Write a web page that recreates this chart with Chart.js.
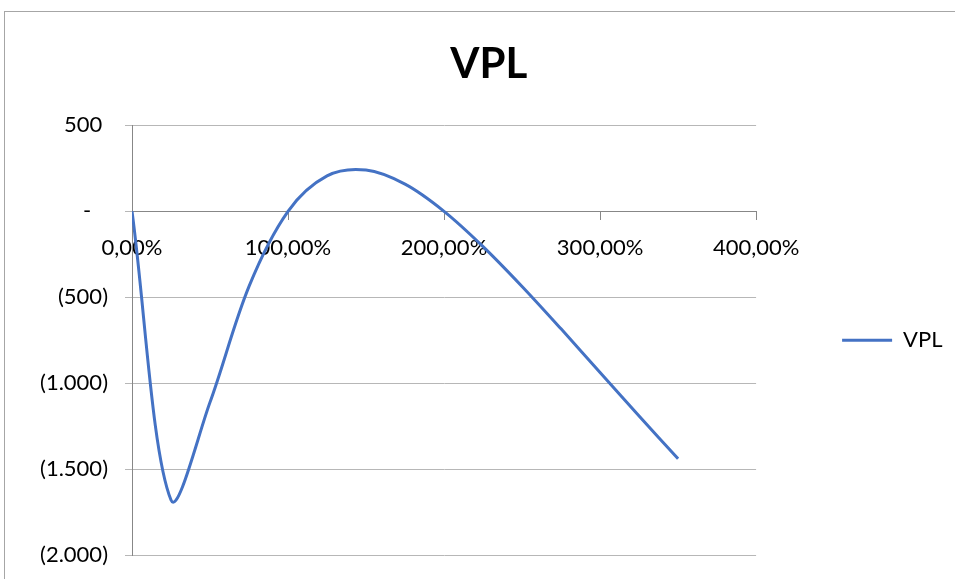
<!DOCTYPE html>
<html>
<head>
<meta charset="utf-8">
<script src="https://cdn.jsdelivr.net/npm/chart.js@4.4.1/dist/chart.umd.min.js"></script>
<style>
  html, body { margin: 0; padding: 0; background: #fff; }
  #wrap { width: 955px; height: 579px; }
</style>
</head>
<body>
<div id="wrap"><canvas id="chart" width="955" height="579"></canvas></div>
<script>
// rates (%) and NPV values
const rates = [0, 25, 50, 75, 100, 125, 150, 175, 200, 225, 250, 275, 300, 325, 350];
const vpl = [0, -1680, -1111, -437, 0, 206, 240, 158, 0, -205, -437, -684, -938, -1191, -1440];

const xTicks = [0, 100, 200, 300, 400];
const xTickLabels = ['0,00%', '100,00%', '200,00%', '300,00%', '400,00%'];
const yTicks = [500, 0, -500, -1000, -1500, -2000];
const yTickLabels = ['500 ', '-   ', '(500)', '(1.000)', '(1.500)', '(2.000)'];

const FONT = 'Lato, "Open Sans", sans-serif';

const frame = {
  id: 'frame',
  afterDraw(chart) {
    const ctx = chart.ctx;
    ctx.save();
    ctx.strokeStyle = '#a6a6a6';
    ctx.lineWidth = 1;
    ctx.strokeRect(4.5, 11.5, 1200, 1200);
    ctx.restore();
  }
};

const ctx = document.getElementById('chart').getContext('2d');
new Chart(ctx, {
  type: 'line',
  data: {
    datasets: [{
      label: 'VPL',
      data: rates.map((r, i) => ({ x: r, y: vpl[i] })),
      borderColor: '#4472C4',
      backgroundColor: '#4472C4',
      borderWidth: 3,
      pointRadius: 0,
      tension: 0.33,
      fill: false
    }]
  },
  options: {
    responsive: false,
    animation: false,
    layout: { padding: { left: 25, right: 2.5, top: 0, bottom: 24 } },
    plugins: {
      title: {
        display: true,
        text: 'VPL',
        color: '#000',
        font: { family: FONT, size: 42, weight: 'bold' },
        padding: { top: 39, bottom: 36 }
      },
      legend: {
        position: 'right',
        fullSize: false,
        labels: {
          color: '#000',
          font: { family: FONT, size: 22 },
          usePointStyle: true,
          pointStyle: 'line',
          pointStyleWidth: 50,
          padding: 86
        }
      },
      tooltip: { enabled: false }
    },
    scales: {
      x: {
        type: 'linear',
        position: { y: 0 },
        min: 0,
        max: 400,
        afterFit: (s) => {
          s.height = 0;
          s.paddingTop = s.paddingBottom = s.paddingLeft = s.paddingRight = 0;
        },
        afterBuildTicks: (s) => { s.ticks = xTicks.map(v => ({ value: v })); },
        ticks: {
          color: '#000',
          font: { family: FONT, size: 22 },
          padding: 15,
          maxRotation: 0,
          callback: (v) => xTickLabels[xTicks.indexOf(v)]
        },
        grid: { drawOnChartArea: false, color: '#878787', tickLength: 8 },
        border: { color: '#878787' }
      },
      y: {
        min: -2000,
        max: 500,
        afterFit: (s) => {
          s.width = 107;
          s.paddingTop = s.paddingBottom = 0;
        },
        afterBuildTicks: (s) => { s.ticks = yTicks.map(v => ({ value: v })); },
        ticks: {
          color: '#000',
          font: { family: FONT, size: 22 },
          padding: 17,
          callback: (v) => yTickLabels[yTicks.indexOf(v)]
        },
        grid: { color: '#b7b7b7', tickLength: 7 },
        border: { color: '#878787' }
      }
    }
  },
  plugins: [frame]
});
</script>
</body>
</html>
